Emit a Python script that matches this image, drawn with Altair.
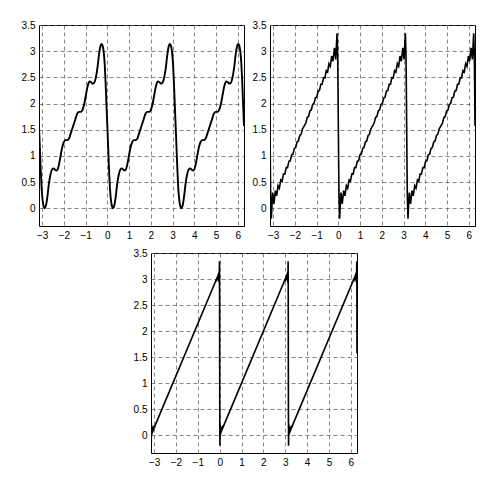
import altair as alt
import pandas as pd

# ---- data ----
# period start positions (x) of the repeating pattern
PERIOD_STARTS = [-3.1416, 0.0, 3.1416]

# panel 1 (top-left): one period, offset u from the jump and value y
P1_U = [0.00, 0.04, 0.08, 0.12, 0.17, 0.22, 0.27, 0.32, 0.38, 0.45, 0.52, 0.60,
        0.67, 0.75, 0.82, 0.90, 0.98, 1.06, 1.14, 1.22, 1.30, 1.38, 1.46, 1.57,
        1.68, 1.76, 1.84, 1.92, 2.00, 2.08, 2.16, 2.24, 2.32, 2.39, 2.47, 2.54,
        2.62, 2.69, 2.76, 2.82, 2.87, 2.92, 2.97, 3.02, 3.06, 3.10, 3.1416]
P1_Y = [1.57, 1.15, 0.72, 0.38, 0.14, 0.03, 0.00, 0.05, 0.20, 0.45, 0.63, 0.74,
        0.76, 0.73, 0.72, 0.80, 0.97, 1.15, 1.26, 1.30, 1.30, 1.33, 1.43, 1.57,
        1.71, 1.81, 1.84, 1.84, 1.88, 1.99, 2.17, 2.34, 2.42, 2.41, 2.38, 2.40,
        2.51, 2.69, 2.94, 3.09, 3.14, 3.11, 3.00, 2.76, 2.42, 1.99, 1.57]

# panel 2 (top-right)
P2_U = [0.000, 0.015, 0.030, 0.060, 0.120, 0.180, 0.245, 0.305, 0.370, 0.430,
        0.495, 0.555, 0.620, 0.680, 0.745, 0.805, 0.870, 0.930, 0.995, 1.055,
        1.120, 1.180, 1.245, 1.305, 1.370, 1.430, 1.495, 1.570,
        1.647, 1.712, 1.772, 1.837, 1.897, 1.962, 2.022, 2.087, 2.147, 2.212,
        2.272, 2.337, 2.397, 2.462, 2.522, 2.587, 2.647, 2.712, 2.772, 2.837,
        2.897, 2.962, 3.022, 3.082, 3.112, 3.127, 3.1416]
P2_Y = [1.570, 0.850, 0.250, -0.200, 0.300, 0.080, 0.335, 0.235, 0.430, 0.380,
        0.540, 0.515, 0.655, 0.650, 0.775, 0.775, 0.895, 0.905, 1.020, 1.033,
        1.142, 1.160, 1.265, 1.285, 1.390, 1.410, 1.515, 1.570,
        1.627, 1.732, 1.752, 1.857, 1.877, 1.982, 2.000, 2.109, 2.122, 2.237,
        2.247, 2.367, 2.367, 2.492, 2.487, 2.627, 2.602, 2.762, 2.712, 2.907,
        2.807, 3.062, 2.842, 3.342, 2.892, 2.292, 1.570]

# panel 3 (bottom)
P3_U = [0.000, 0.004, 0.010, 0.020, 0.030, 0.040, 0.052, 0.065, 0.080, 0.095,
        0.115, 0.140, 0.170, 0.200,
        2.942, 2.972, 3.002, 3.027, 3.047, 3.062, 3.077, 3.090, 3.102, 3.112,
        3.122, 3.132, 3.138, 3.1416]
P3_Y = [1.570, 0.500, -0.200, 0.220, 0.000, 0.180, 0.030, 0.160, 0.060, 0.150,
        0.100, 0.170, 0.160, 0.200,
        2.942, 2.982, 2.972, 3.042, 2.992, 3.082, 2.982, 3.112, 2.962, 3.142,
        2.922, 3.342, 2.642, 1.570]

X_TICKS = [-3, -2, -1, 0, 1, 2, 3, 4, 5, 6]
Y_TICKS = [0, 0.5, 1, 1.5, 2, 2.5, 3, 3.5]
X_DOMAIN = [-3.1416, 6.2832]
Y_DOMAIN = [-0.34, 3.5]


def build(us, ys):
    rows = []
    for s in PERIOD_STARTS:
        for u, y in zip(us, ys):
            rows.append({"x": s + u, "y": y})
    return pd.DataFrame(rows)


def panel(us, ys, sw, interp, w=205, h=201):
    df = build(us, ys)
    return alt.Chart(df).mark_line(
        color="black", strokeWidth=sw, clip=True, interpolate=interp
    ).encode(
        x=alt.X("x:Q", sort=None,
                scale=alt.Scale(domain=X_DOMAIN, nice=False, zero=False),
                axis=alt.Axis(values=X_TICKS, title=None, format="~g")),
        y=alt.Y("y:Q",
                scale=alt.Scale(domain=Y_DOMAIN, nice=False, zero=False),
                axis=alt.Axis(values=Y_TICKS, title=None, format="~g")),
        order=alt.Order("x:Q"),
    ).properties(width=w, height=h)


p1 = panel(P1_U, P1_Y, 1.9, "monotone")
p2 = panel(P2_U, P2_Y, 1.6, "linear")
p3 = panel(P3_U, P3_Y, 1.6, "linear", w=206, h=200)

# empty, invisible spacer that pushes the bottom panel to the right
spacer = alt.Chart(pd.DataFrame({"v": [0]})).mark_point(opacity=0).encode(
    x=alt.X("v:Q", axis=None),
    y=alt.Y("v:Q", axis=None),
).properties(width=93, height=10, view=alt.ViewBackground(strokeOpacity=0))

chart = alt.vconcat(
    alt.hconcat(p1, p2, spacing=6),
    alt.hconcat(spacer, p3, spacing=0),
    spacing=6,
).properties(
    padding={"top": 11, "left": 12, "right": 5, "bottom": 5}
).configure_view(
    stroke="black", strokeWidth=1
).configure_axis(
    labelFont="Liberation Sans", labelFontSize=10, labelColor="black",
    grid=True, gridColor="#555555", gridDash=[4, 3], gridWidth=0.7,
    gridOpacity=1, domain=False, ticks=False, labelPadding=4,
)

chart.save("out.html", embed_options={"renderer": "svg", "actions": False})
